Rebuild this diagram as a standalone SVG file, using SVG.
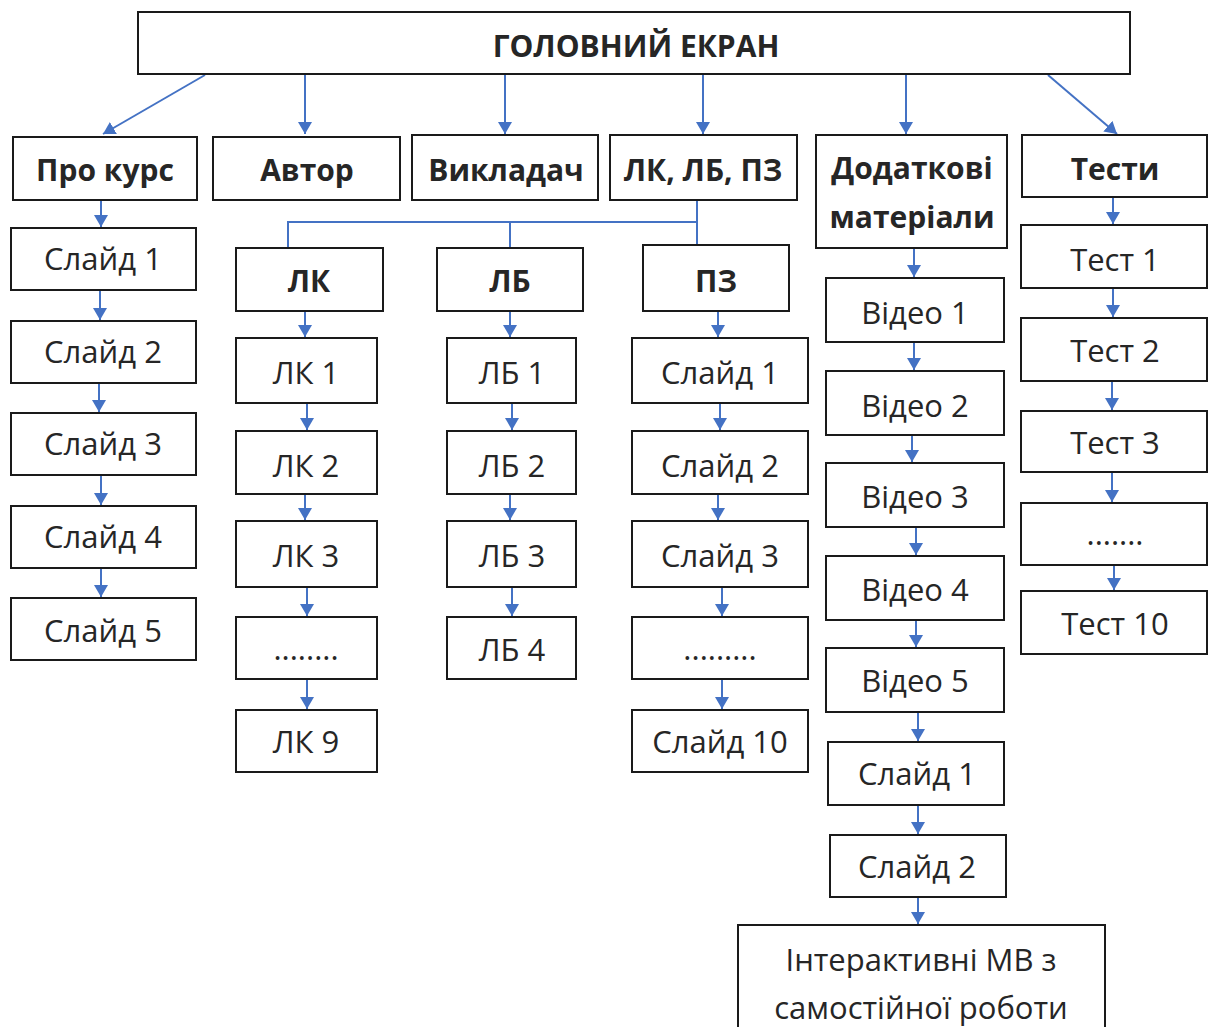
<svg xmlns="http://www.w3.org/2000/svg" width="1208" height="1027" viewBox="0 0 1208 1027">
<style>
.box{fill:#fff;stroke:#1a1a1a;stroke-width:2}
.t{font-family:"Open Sans","Liberation Sans",sans-serif;font-size:31px;fill:#262626;text-anchor:middle}
.b{font-weight:bold;font-size:30px}
.c{fill:none;stroke:#4472C4;stroke-width:2}
</style>
<defs>
<marker id="ah" markerUnits="userSpaceOnUse" markerWidth="16" markerHeight="16" refX="12" refY="7" orient="auto">
<path d="M0,0 L12,7 L0,14 z" fill="#4472C4"/>
</marker>
</defs>
<g id="connectors">
<path class="c" d="M205,75 L103,134" marker-end="url(#ah)"/>
<path class="c" d="M305,75 V134" marker-end="url(#ah)"/>
<path class="c" d="M505,75 V134" marker-end="url(#ah)"/>
<path class="c" d="M703,75 V134" marker-end="url(#ah)"/>
<path class="c" d="M906,75 V134" marker-end="url(#ah)"/>
<path class="c" d="M1048,75 L1117,134" marker-end="url(#ah)"/>
<path class="c" d="M101,200 V227" marker-end="url(#ah)"/>
<path class="c" d="M100,291 V320" marker-end="url(#ah)"/>
<path class="c" d="M99,384 V412" marker-end="url(#ah)"/>
<path class="c" d="M101,476 V505" marker-end="url(#ah)"/>
<path class="c" d="M101,569 V597" marker-end="url(#ah)"/>
<path class="c" d="M697,200 V222 H288 V248 M510,222 V248 M697,222 V248"/>
<path class="c" d="M305,311 V337" marker-end="url(#ah)"/>
<path class="c" d="M307,404 V430" marker-end="url(#ah)"/>
<path class="c" d="M305,495 V520" marker-end="url(#ah)"/>
<path class="c" d="M307,588 V616" marker-end="url(#ah)"/>
<path class="c" d="M307,680 V709" marker-end="url(#ah)"/>
<path class="c" d="M510,311 V337" marker-end="url(#ah)"/>
<path class="c" d="M512,404 V430" marker-end="url(#ah)"/>
<path class="c" d="M510,495 V520" marker-end="url(#ah)"/>
<path class="c" d="M512,588 V616" marker-end="url(#ah)"/>
<path class="c" d="M718,311 V337" marker-end="url(#ah)"/>
<path class="c" d="M720,404 V430" marker-end="url(#ah)"/>
<path class="c" d="M718,495 V520" marker-end="url(#ah)"/>
<path class="c" d="M722,588 V616" marker-end="url(#ah)"/>
<path class="c" d="M722,680 V709" marker-end="url(#ah)"/>
<path class="c" d="M914,249 V277" marker-end="url(#ah)"/>
<path class="c" d="M914,343 V370" marker-end="url(#ah)"/>
<path class="c" d="M912,436 V462" marker-end="url(#ah)"/>
<path class="c" d="M916,528 V555" marker-end="url(#ah)"/>
<path class="c" d="M916,621 V647" marker-end="url(#ah)"/>
<path class="c" d="M918,713 V741" marker-end="url(#ah)"/>
<path class="c" d="M918,806 V834" marker-end="url(#ah)"/>
<path class="c" d="M918,898 V924" marker-end="url(#ah)"/>
<path class="c" d="M1113,198 V224" marker-end="url(#ah)"/>
<path class="c" d="M1113,289 V317" marker-end="url(#ah)"/>
<path class="c" d="M1112,382 V410" marker-end="url(#ah)"/>
<path class="c" d="M1112,473 V502" marker-end="url(#ah)"/>
<path class="c" d="M1114,566 V590" marker-end="url(#ah)"/>
</g>
<g id="main"><rect class="box" x="138" y="12" width="992" height="62"/><text class="t b" x="636" y="57">ГОЛОВНИЙ ЕКРАН</text></g>
<g id="pro-kurs"><rect class="box" x="13" y="137" width="184" height="63"/><text class="t b" x="105" y="181">Про курс</text></g>
<g id="avtor"><rect class="box" x="213" y="137" width="187" height="63"/><text class="t b" x="307" y="181">Автор</text></g>
<g id="vykladach"><rect class="box" x="412" y="135" width="186" height="65"/><text class="t b" x="506" y="181">Викладач</text></g>
<g id="lk-lb-pz"><rect class="box" x="610" y="135" width="187" height="65"/><text class="t b" x="703" y="181">ЛК, ЛБ, ПЗ</text></g>
<g id="dodatkovi"><rect class="box" x="816" y="135" width="191" height="113"/><text class="t b" x="912" y="179">Додаткові</text><text class="t b" x="912" y="228">матеріали</text></g>
<g id="testy"><rect class="box" x="1022" y="135" width="185" height="62"/><text class="t b" x="1115" y="180">Тести</text></g>
<g id="pk-s1"><rect class="box" x="11" y="228" width="185" height="62"/><text class="t" x="103" y="270">Слайд 1</text></g>
<g id="pk-s2"><rect class="box" x="11" y="321" width="185" height="62"/><text class="t" x="103" y="363">Слайд 2</text></g>
<g id="pk-s3"><rect class="box" x="11" y="413" width="185" height="62"/><text class="t" x="103" y="455">Слайд 3</text></g>
<g id="pk-s4"><rect class="box" x="11" y="506" width="185" height="62"/><text class="t" x="103" y="548">Слайд 4</text></g>
<g id="pk-s5"><rect class="box" x="11" y="598" width="185" height="62"/><text class="t" x="103" y="642">Слайд 5</text></g>
<g id="lk"><rect class="box" x="236" y="248" width="147" height="63"/><text class="t b" x="309" y="292">ЛК</text></g>
<g id="lb"><rect class="box" x="437" y="248" width="146" height="63"/><text class="t b" x="510" y="292">ЛБ</text></g>
<g id="pz"><rect class="box" x="643" y="245" width="146" height="66"/><text class="t b" x="716" y="292">ПЗ</text></g>
<g id="lk1"><rect class="box" x="236" y="338" width="141" height="65"/><text class="t" x="306" y="384">ЛК 1</text></g>
<g id="lk2"><rect class="box" x="236" y="431" width="141" height="63"/><text class="t" x="306" y="477">ЛК 2</text></g>
<g id="lk3"><rect class="box" x="236" y="521" width="141" height="66"/><text class="t" x="306" y="567">ЛК 3</text></g>
<g id="lk-dots"><rect class="box" x="236" y="617" width="141" height="62"/><text class="t" x="306" y="660">........</text></g>
<g id="lk9"><rect class="box" x="236" y="710" width="141" height="62"/><text class="t" x="306" y="753">ЛК 9</text></g>
<g id="lb1"><rect class="box" x="447" y="338" width="129" height="65"/><text class="t" x="512" y="384">ЛБ 1</text></g>
<g id="lb2"><rect class="box" x="447" y="431" width="129" height="63"/><text class="t" x="512" y="477">ЛБ 2</text></g>
<g id="lb3"><rect class="box" x="447" y="521" width="129" height="66"/><text class="t" x="512" y="567">ЛБ 3</text></g>
<g id="lb4"><rect class="box" x="447" y="617" width="129" height="62"/><text class="t" x="512" y="661">ЛБ 4</text></g>
<g id="pz-s1"><rect class="box" x="632" y="338" width="176" height="65"/><text class="t" x="720" y="384">Слайд 1</text></g>
<g id="pz-s2"><rect class="box" x="632" y="431" width="176" height="63"/><text class="t" x="720" y="477">Слайд 2</text></g>
<g id="pz-s3"><rect class="box" x="632" y="521" width="176" height="66"/><text class="t" x="720" y="567">Слайд 3</text></g>
<g id="pz-dots"><rect class="box" x="632" y="617" width="176" height="62"/><text class="t" x="720" y="660">.........</text></g>
<g id="pz-s10"><rect class="box" x="632" y="710" width="176" height="62"/><text class="t" x="720" y="753">Слайд 10</text></g>
<g id="v1"><rect class="box" x="826" y="278" width="178" height="64"/><text class="t" x="915" y="324">Відео 1</text></g>
<g id="v2"><rect class="box" x="826" y="371" width="178" height="64"/><text class="t" x="915" y="417">Відео 2</text></g>
<g id="v3"><rect class="box" x="826" y="463" width="178" height="64"/><text class="t" x="915" y="508">Відео 3</text></g>
<g id="v4"><rect class="box" x="826" y="556" width="178" height="64"/><text class="t" x="915" y="601">Відео 4</text></g>
<g id="v5"><rect class="box" x="826" y="648" width="178" height="64"/><text class="t" x="915" y="692">Відео 5</text></g>
<g id="dm-s1"><rect class="box" x="828" y="742" width="176" height="63"/><text class="t" x="917" y="785">Слайд 1</text></g>
<g id="dm-s2"><rect class="box" x="830" y="835" width="176" height="62"/><text class="t" x="917" y="878">Слайд 2</text></g>
<g id="interaktyvni"><rect class="box" x="738" y="925" width="367" height="110"/><text class="t" x="921" y="971">Інтерактивні МВ з</text><text class="t" x="921" y="1019">самостійної роботи</text></g>
<g id="t1"><rect class="box" x="1021" y="225" width="186" height="63"/><text class="t" x="1115" y="271">Тест 1</text></g>
<g id="t2"><rect class="box" x="1021" y="318" width="186" height="63"/><text class="t" x="1115" y="362">Тест 2</text></g>
<g id="t3"><rect class="box" x="1021" y="411" width="186" height="61"/><text class="t" x="1115" y="454">Тест 3</text></g>
<g id="t-dots"><rect class="box" x="1021" y="503" width="186" height="62"/><text class="t" x="1115" y="545">.......</text></g>
<g id="t10"><rect class="box" x="1021" y="591" width="186" height="63"/><text class="t" x="1115" y="635">Тест 10</text></g>
</svg>
